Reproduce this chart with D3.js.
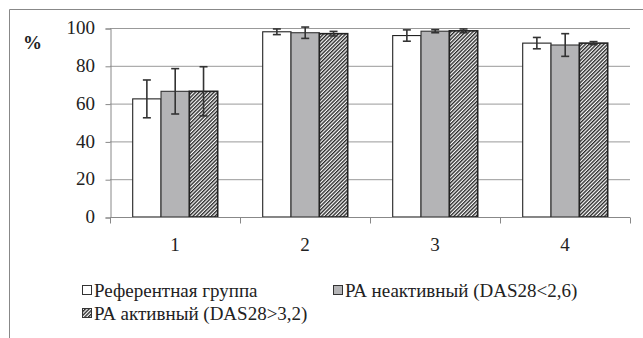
<!DOCTYPE html>
<html><head><meta charset="utf-8">
<script src="https://cdn.jsdelivr.net/npm/d3@7"></script>
</head><body style="margin:0"><svg id="c" width="643" height="338"></svg>
<script>
const categories = ["1","2","3","4"];
const seriesNames = ["Референтная группа","РА неактивный (DAS28<2,6)","РА активный (DAS28>3,2)"];
const refValues = [62.5, 98, 96, 92];
const refErr = [10, 1.5, 3, 3];
const inactiveValues = [66.5, 97.5, 98.3, 91];
const inactiveErr = [12, 3, 0.8, 6];
const activeValues = [66.5, 97, 98.5, 92];
const activeErr = [13, 1.2, 1, 0.8];
const yTicks = [0, 20, 40, 60, 80, 100];

const FONT = '"Liberation Serif"';
const svg = d3.select("#c");
const defs = svg.append("defs");
const pat = defs.append("pattern").attr("id","hatch").attr("patternUnits","userSpaceOnUse")
  .attr("width",2.6).attr("height",2.6).attr("patternTransform","rotate(45)");
pat.append("rect").attr("width",2.6).attr("height",2.6).attr("fill","#fff");
pat.append("line").attr("x1",0.7).attr("y1",0).attr("x2",0.7).attr("y2",2.6).attr("stroke","#2a2a2a").attr("stroke-width",1.4);

svg.append("rect").attr("width",643).attr("height",338).attr("fill","#fff");
// outer frame
svg.append("path").attr("d","M9.5,338 V9.5 H643").attr("fill","none").attr("stroke","#888").attr("stroke-width",1);

const M = {left:110, right:630, top:28, bottom:217};
const x = d3.scaleBand().domain(categories).range([M.left, M.right]).paddingInner(0).paddingOuter(0);
const y = d3.scaleLinear().domain([0,100]).range([M.bottom, M.top]);
const inner = d3.scaleBand().domain(d3.range(3)).range([22.7, 130-22.3]);

// grid
svg.append("g").selectAll("line").data(yTicks.filter(d=>d>0)).join("line")
  .attr("x1",M.left).attr("x2",M.right).attr("y1",d=>y(d)+0.5).attr("y2",d=>y(d)+0.5)
  .attr("stroke","#999").attr("stroke-width",1);

// y axis (lines via axis; labels drawn as plain text)
const ya = svg.append("g").attr("transform",`translate(${M.left+0.5},0.5)`)
  .call(d3.axisLeft(y).tickValues(yTicks).tickSize(5).tickFormat(""));
ya.select(".domain").attr("stroke","#888");
ya.selectAll(".tick line").attr("stroke","#888");
svg.selectAll("text.ylab").data(yTicks).join("text").attr("class","ylab")
  .attr("x",M.left-15).attr("y",d=>y(d)).attr("dy","0.33em").attr("text-anchor","end")
  .attr("font-size",19).style("font-family",FONT).attr("fill","#222").text(d=>d);

// bars
const series = [
  {vals:refValues, err:refErr, fill:"#fff", stroke:"#222"},
  {vals:inactiveValues, err:inactiveErr, fill:"#b4b4b6", stroke:"#333"},
  {vals:activeValues, err:activeErr, fill:"url(#hatch)", stroke:"#222"}
];
series.forEach((s,si)=>{
  const g = svg.append("g");
  g.selectAll("rect").data(categories).join("rect")
    .attr("x",(c)=>x(c)+inner(si)).attr("width",inner.bandwidth())
    .attr("y",(c,i)=>y(s.vals[i])).attr("height",(c,i)=>y(0)-y(s.vals[i]))
    .attr("fill",s.fill).attr("stroke",s.stroke).attr("stroke-width",si===2?1.6:1.1);
});

// x axis
svg.append("line").attr("x1",M.left).attr("x2",M.right).attr("y1",M.bottom+0.5).attr("y2",M.bottom+0.5).attr("stroke","#888");
svg.selectAll("line.t").data(categories.map(c=>x(c)).concat([M.right])).join("line").attr("class","t")
  .attr("x1",d=>d+0.5).attr("x2",d=>d+0.5).attr("y1",M.bottom+0.5).attr("y2",M.bottom+6.5).attr("stroke","#888");
svg.selectAll("text.xlab").data(categories).join("text").attr("class","xlab")
  .attr("x",c=>x(c)+x.bandwidth()/2).attr("y",M.bottom+28).attr("dy","0.33em").attr("text-anchor","middle")
  .attr("font-size",19).style("font-family",FONT).attr("fill","#222").text(d=>d);

// error bars
series.forEach((s,si)=>{
  const g = svg.append("g").attr("stroke","#333").attr("stroke-width",1.6);
  categories.forEach((c,i)=>{
    const cx = x(c)+inner(si)+inner.bandwidth()/2;
    const y1 = y(s.vals[i]+s.err[i]), y2 = y(s.vals[i]-s.err[i]);
    g.append("line").attr("x1",cx).attr("x2",cx).attr("y1",y1).attr("y2",y2);
    g.append("line").attr("x1",cx-4).attr("x2",cx+4).attr("y1",y1).attr("y2",y1);
    g.append("line").attr("x1",cx-4).attr("x2",cx+4).attr("y1",y2).attr("y2",y2);
  });
});

// % label
svg.append("text").attr("x",23).attr("y",43).attr("dy","0.33em")
  .attr("font-size",19).attr("font-weight","bold").style("font-family",FONT).attr("fill","#222").text("%");

// legend
const legendPos = [{x:82,y:290},{x:333,y:290},{x:82,y:313}];
const lfills = ["#fff","#b4b4b6","url(#hatch)"];
legendPos.forEach((p,i)=>{
  svg.append("rect").attr("x",p.x+0.5).attr("y",p.y-4.5).attr("width",9).attr("height",9)
    .attr("fill",lfills[i]).attr("stroke","#333").attr("stroke-width",1);
  svg.append("text").attr("x",p.x+12).attr("y",p.y).attr("dy","0.35em")
    .attr("font-size",19).style("font-family",FONT).attr("fill","#222").text(seriesNames[i]);
});
</script></body></html>
